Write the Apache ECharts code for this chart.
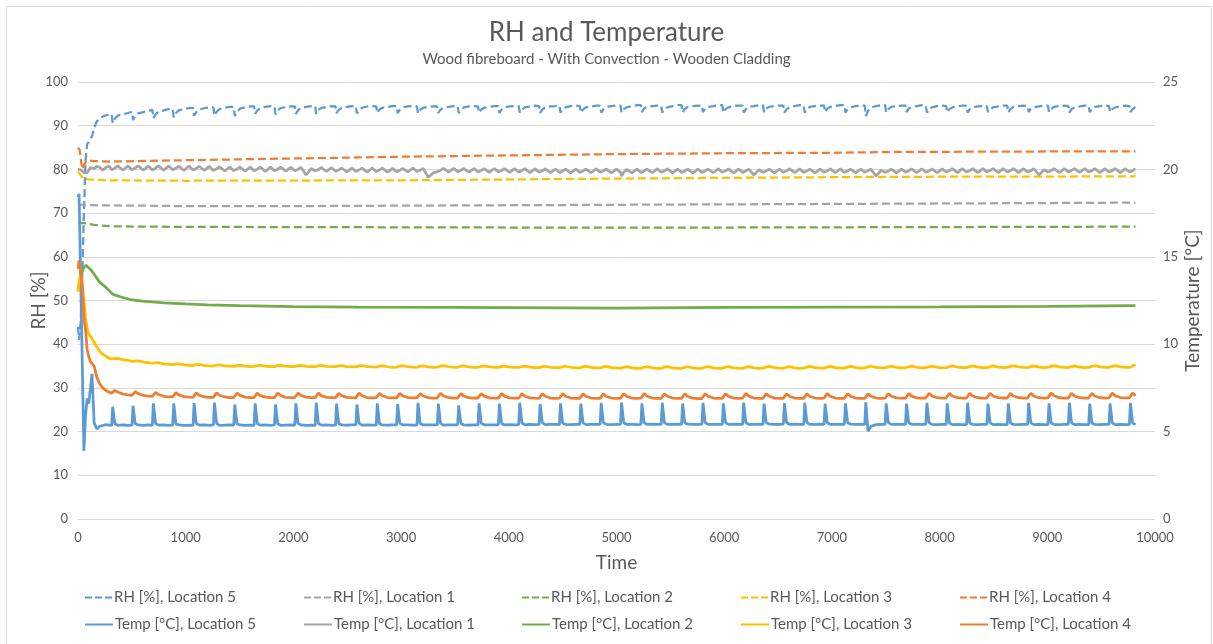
<!DOCTYPE html>
<html><head><meta charset="utf-8">
<script src="https://cdn.jsdelivr.net/npm/echarts@6/dist/echarts.min.js"></script>
<style>html,body{margin:0;padding:0;background:#fff}#c{width:1213px;height:644px}</style>
</head><body><div id="c"></div>
<script>
// ---- time grid shared by the cyclic series ----
const timeGrid = [
0,10,25,40,55,70,85,100,115,130,150,175,200,230,260,290,
312,322,342,369,417,464, 501,511,531,558,606,653, 690,700,720,747,795,842,
879,889,909,936,984,1031, 1068,1078,1098,1125,1173,1220, 1257,1267,1287,1314,1362,1409,
1446,1456,1476,1503,1551,1598, 1635,1645,1665,1692,1740,1787, 1824,1834,1854,1881,1929,1976,
2013,2023,2043,2070,2118,2165, 2202,2212,2232,2259,2307,2354, 2391,2401,2421,2448,2496,2543,
2580,2590,2610,2637,2685,2732, 2769,2779,2799,2826,2874,2921, 2958,2968,2988,3015,3063,3110,
3147,3157,3177,3204,3252,3299, 3336,3346,3366,3393,3441,3488, 3525,3535,3555,3582,3630,3677,
3714,3724,3744,3771,3819,3866, 3903,3913,3933,3960,4008,4055, 4092,4102,4122,4149,4197,4244,
4281,4291,4311,4338,4386,4433, 4470,4480,4500,4527,4575,4622, 4659,4669,4689,4716,4764,4811,
4848,4858,4878,4905,4953,5000, 5037,5047,5067,5094,5142,5189, 5226,5236,5256,5283,5331,5378,
5415,5425,5445,5472,5520,5567, 5604,5614,5634,5661,5709,5756, 5793,5803,5823,5850,5898,5945,
5982,5992,6012,6039,6087,6134, 6171,6181,6201,6228,6276,6323, 6360,6370,6390,6417,6465,6512,
6549,6559,6579,6606,6654,6701, 6738,6748,6768,6795,6843,6890, 6927,6937,6957,6984,7032,7079,
7116,7126,7146,7173,7221,7268, 7305,7315,7335,7362,7410,7457, 7494,7504,7524,7551,7599,7646,
7683,7693,7713,7740,7788,7835, 7872,7882,7902,7929,7977,8024, 8061,8071,8091,8118,8166,8213,
8250,8260,8280,8307,8355,8402, 8439,8449,8469,8496,8544,8591, 8628,8638,8658,8685,8733,8780,
8817,8827,8847,8874,8922,8969, 9006,9016,9036,9063,9111,9158, 9195,9205,9225,9252,9300,9347,
9384,9394,9414,9441,9489,9536, 9573,9583,9603,9630,9678,9725, 9762,9772,9792,9819
];

// RH [%], Location 5 (on timeGrid)
const rhLoc5 = [
44,41,45,56,70,82,85.8,86.3,87.0,87.6,89.5,91.0,91.6,92.1,92.4,92.6,
92.7,90.6,91.6,92.3,92.6,92.9, 93.2,91.3,92.2,92.8,93.1,93.4, 93.6,91.7,92.6,93.2,93.5,93.8,
93.9,91.9,92.9,93.5,93.8,94.0, 94.1,92.3,93.1,93.7,94.0,94.2, 94.2,92.3,93.2,93.8,94.1,94.3,
94.3,92.2,93.2,93.9,94.2,94.4, 94.4,92.7,93.5,94.0,94.3,94.5, 94.4,92.6,93.5,94.0,94.3,94.4,
94.4,92.7,93.5,94.1,94.3,94.5, 94.5,92.7,93.6,94.1,94.3,94.5, 94.4,92.9,93.6,94.1,94.3,94.5,
94.5,92.8,93.6,94.1,94.4,94.5, 94.4,92.9,93.7,94.1,94.3,94.5, 94.5,92.9,93.6,94.2,94.4,94.5,
94.4,92.8,93.6,94.1,94.3,94.4, 94.4,92.9,93.7,94.1,94.3,94.5, 94.5,92.9,93.6,94.2,94.4,94.5,
94.4,93.0,93.7,94.1,94.3,94.5, 94.5,92.9,93.7,94.2,94.4,94.5, 94.5,93.0,93.7,94.2,94.4,94.6,
94.5,92.9,93.7,94.2,94.4,94.5, 94.6,93.0,93.8,94.2,94.5,94.6, 94.5,93.0,93.7,94.2,94.4,94.6,
94.6,93.0,93.8,94.3,94.5,94.6, 94.6,93.0,93.8,94.2,94.5,94.7, 94.7,93.1,93.9,94.3,94.5,94.6,
94.6,93.0,93.8,94.2,94.5,94.7, 94.7,93.0,93.8,94.3,94.5,94.6, 94.6,93.1,93.9,94.3,94.5,94.7,
94.7,93.0,93.8,94.2,94.5,94.6, 94.6,93.0,93.8,94.3,94.5,94.7, 94.7,93.1,93.9,94.3,94.5,94.6,
94.6,93.0,93.8,94.2,94.5,94.7, 94.7,93.0,93.8,94.3,94.5,94.6, 94.6,93.1,93.9,94.3,94.5,94.7,
94.7,93.0,93.8,94.2,94.5,94.6, 94.6,92.2,93.4,94.1,94.5,94.7, 94.7,93.0,93.8,94.3,94.5,94.6,
94.6,93.1,93.9,94.3,94.5,94.7, 94.6,93.0,93.8,94.2,94.5,94.6, 94.5,93.1,93.8,94.2,94.4,94.6,
94.6,93.0,93.8,94.2,94.4,94.5, 94.5,93.1,93.8,94.2,94.4,94.6, 94.6,93.0,93.8,94.3,94.5,94.6,
94.5,93.1,93.9,94.2,94.4,94.6, 94.6,93.1,93.8,94.3,94.5,94.6, 94.5,93.0,93.8,94.2,94.4,94.6,
94.6,93.1,93.9,94.3,94.5,94.6, 94.5,93.1,93.8,94.2,94.4,94.6, 94.5,93.1,93.8,94.3
];

// Temp [°C], Location 5 (on timeGrid)
const tempLoc5 = [
18.4,18.6,13.7,8.8,3.9,5.9,6.9,6.6,6.7,8.3,5.5,5.15,5.3,5.35,5.4,5.37,
5.36,6.42,5.45,5.36,5.38,5.35, 5.37,6.48,5.46,5.38,5.36,5.38, 5.36,6.62,5.47,5.37,5.39,5.36,
5.37,6.62,5.45,5.38,5.36,5.37, 5.36,6.63,5.46,5.37,5.38,5.36, 5.38,6.65,5.47,5.36,5.37,5.38,
5.37,6.55,5.45,5.38,5.36,5.37, 5.36,6.62,5.46,5.37,5.38,5.36, 5.38,6.55,5.45,5.36,5.37,5.38,
5.37,6.62,5.47,5.38,5.36,5.37, 5.36,6.65,5.46,5.37,5.38,5.36, 5.37,6.60,5.46,5.38,5.37,5.38,
5.38,6.55,5.47,5.37,5.39,5.37, 5.37,6.62,5.46,5.38,5.37,5.38, 5.38,6.58,5.47,5.39,5.38,5.37,
5.37,6.64,5.46,5.38,5.39,5.38, 5.38,6.60,5.47,5.37,5.38,5.39, 5.39,6.50,5.48,5.38,5.37,5.38,
5.38,6.62,5.47,5.39,5.38,5.39, 5.39,6.60,5.48,5.38,5.40,5.38, 5.40,6.65,5.49,5.39,5.41,5.40,
5.41,6.58,5.50,5.40,5.42,5.41, 5.40,6.62,5.49,5.41,5.40,5.42, 5.41,6.60,5.50,5.40,5.42,5.41,
5.42,6.64,5.51,5.41,5.40,5.42, 5.41,6.66,5.50,5.42,5.41,5.40, 5.42,6.62,5.51,5.41,5.43,5.42,
5.41,6.65,5.50,5.42,5.41,5.43, 5.42,6.60,5.51,5.43,5.42,5.41, 5.43,6.64,5.52,5.42,5.41,5.42,
5.42,6.62,5.51,5.41,5.43,5.42, 5.41,6.66,5.50,5.42,5.41,5.43, 5.42,6.60,5.51,5.43,5.42,5.41,
5.43,6.63,5.52,5.42,5.43,5.42, 5.42,6.65,5.51,5.41,5.42,5.43, 5.41,6.60,5.50,5.42,5.41,5.42,
5.42,6.62,5.51,5.43,5.42,5.41, 5.41,6.68,5.02,5.30,5.40,5.42, 5.42,6.62,5.51,5.41,5.42,5.41,
5.41,6.60,5.50,5.42,5.41,5.42, 5.42,6.64,5.51,5.41,5.40,5.41, 5.41,6.62,5.50,5.40,5.41,5.40,
5.40,6.65,5.49,5.41,5.40,5.41, 5.41,6.60,5.50,5.40,5.42,5.40, 5.40,6.62,5.49,5.41,5.40,5.41,
5.41,6.64,5.50,5.40,5.41,5.40, 5.40,6.62,5.49,5.41,5.40,5.41, 5.41,6.65,5.50,5.40,5.41,5.40,
5.40,6.60,5.49,5.41,5.40,5.41, 5.41,6.62,5.50,5.40,5.41,5.40, 5.40,6.64,5.49,5.40
];

// Temp [°C], Location 1 (on timeGrid)
const tempLoc1 = [
20.0,20.02,19.98,19.9,19.82,19.78,19.8,19.95,20.1,20.0,20.05,20.17,20.12,19.96,20.12,20.18,
19.98,19.95,20.07,20.20,19.95,20.20, 19.98,19.95,20.08,20.21,19.96,20.19, 19.97,19.94,20.07,20.20,19.95,20.20,
19.98,19.95,20.06,20.19,19.94,20.19, 19.96,19.93,20.05,20.18,19.94,20.17, 19.94,19.91,20.03,20.15,19.91,20.14,
19.93,19.90,20.02,20.14,19.90,20.13, 19.93,19.90,20.01,20.13,19.89,20.13, 19.92,19.89,20.01,20.13,19.90,20.12,
19.92,19.89,20.00,20.12,19.68,20.05, 19.91,19.88,19.99,20.11,19.88,20.10, 19.89,19.86,19.97,20.08,19.86,20.08,
19.88,19.85,19.96,20.07,19.85,20.07, 19.88,19.85,19.96,20.07,19.84,20.06, 19.87,19.84,19.95,20.06,19.85,20.07,
19.88,19.85,19.96,20.06,19.55,19.80, 19.87,19.84,19.95,20.06,19.84,20.06, 19.87,19.84,19.95,20.05,19.84,20.05,
19.86,19.83,19.94,20.05,19.83,20.05, 19.86,19.83,19.94,20.04,19.83,20.04, 19.85,19.82,19.93,20.04,19.82,20.03,
19.84,19.81,19.92,20.03,19.81,20.02, 19.83,19.80,19.91,20.02,19.80,20.02, 19.83,19.80,19.91,20.02,19.81,20.03,
19.84,19.81,19.92,20.02,19.80,20.02, 19.83,19.62,19.85,20.00,19.80,20.02, 19.83,19.80,19.91,20.02,19.81,20.03,
19.84,19.81,19.92,20.03,19.80,20.02, 19.83,19.80,19.91,20.02,19.80,20.02, 19.83,19.80,19.91,20.02,19.81,20.03,
19.84,19.81,19.92,20.03,19.80,20.02, 19.83,19.80,19.91,20.02,19.68,19.98, 19.83,19.80,19.91,20.02,19.80,20.02,
19.84,19.81,19.92,20.03,19.81,20.03, 19.83,19.80,19.91,20.02,19.80,20.02, 19.84,19.81,19.92,20.03,19.81,20.03,
19.83,19.80,19.91,20.02,19.80,20.02, 19.84,19.81,19.92,20.02,19.62,19.95, 19.83,19.80,19.91,20.02,19.80,20.02,
19.84,19.81,19.92,20.03,19.81,20.03, 19.84,19.81,19.92,20.03,19.81,20.03, 19.85,19.82,19.93,20.04,19.82,20.04,
19.85,19.82,19.93,20.04,19.82,20.04, 19.86,19.83,19.94,20.05,19.82,20.04, 19.85,19.82,19.93,20.04,19.82,20.04,
19.85,19.82,19.93,20.04,19.68,19.98, 19.85,19.82,19.93,20.04,19.82,20.04, 19.86,19.83,19.94,20.05,19.83,20.05,
19.85,19.82,19.93,20.04,19.82,20.04, 19.85,19.82,19.93,20.04,19.82,20.04, 19.85,19.82,19.93,20.04
];

// Temp [°C], Location 3 (on timeGrid)
const tempLoc3 = [
13.0,13.6,14.05,13.5,12.5,11.5,10.9,10.6,10.45,10.35,10.1,9.85,9.6,9.42,9.3,9.2,
9.16,9.15,9.18,9.19,9.12,9.07, 9.02,9.01,9.04,9.05,8.98,8.94, 8.91,8.90,8.93,8.94,8.88,8.85,
8.83,8.82,8.87,8.88,8.82,8.79, 8.78,8.77,8.83,8.84,8.78,8.76, 8.75,8.74,8.81,8.82,8.76,8.74,
8.73,8.72,8.79,8.80,8.75,8.72, 8.73,8.72,8.78,8.80,8.74,8.72, 8.72,8.71,8.78,8.79,8.74,8.72,
8.72,8.71,8.77,8.79,8.73,8.71, 8.71,8.70,8.77,8.79,8.73,8.71, 8.71,8.70,8.76,8.78,8.72,8.70,
8.70,8.69,8.76,8.78,8.72,8.70, 8.69,8.68,8.74,8.77,8.71,8.68, 8.69,8.68,8.75,8.77,8.71,8.69,
8.68,8.67,8.74,8.76,8.70,8.68, 8.69,8.68,8.74,8.77,8.71,8.68, 8.68,8.67,8.74,8.76,8.70,8.68,
8.68,8.67,8.73,8.76,8.70,8.67, 8.67,8.66,8.73,8.75,8.69,8.67, 8.67,8.66,8.72,8.75,8.69,8.66,
8.66,8.65,8.72,8.74,8.68,8.66, 8.66,8.65,8.71,8.74,8.68,8.65, 8.65,8.64,8.70,8.73,8.67,8.65,
8.64,8.63,8.70,8.73,8.66,8.64, 8.62,8.61,8.68,8.72,8.65,8.62, 8.62,8.61,8.68,8.72,8.65,8.62,
8.62,8.61,8.69,8.72,8.65,8.62, 8.61,8.60,8.68,8.71,8.64,8.62, 8.62,8.61,8.68,8.72,8.65,8.62,
8.62,8.61,8.69,8.72,8.65,8.63, 8.62,8.61,8.68,8.72,8.65,8.62, 8.63,8.62,8.69,8.73,8.66,8.63,
8.62,8.61,8.68,8.72,8.65,8.62, 8.63,8.62,8.69,8.73,8.66,8.63, 8.63,8.62,8.69,8.73,8.66,8.63,
8.63,8.62,8.69,8.73,8.66,8.63, 8.64,8.63,8.70,8.74,8.67,8.64, 8.64,8.63,8.70,8.74,8.67,8.64,
8.65,8.64,8.71,8.75,8.68,8.65, 8.65,8.64,8.71,8.75,8.68,8.65, 8.66,8.65,8.72,8.76,8.69,8.66,
8.66,8.65,8.72,8.76,8.69,8.66, 8.66,8.65,8.72,8.76,8.69,8.66, 8.67,8.66,8.73,8.77,8.70,8.67,
8.66,8.65,8.72,8.76,8.69,8.66, 8.67,8.66,8.73,8.77,8.70,8.67, 8.66,8.65,8.72,8.76,8.69,8.66,
8.67,8.66,8.73,8.77,8.70,8.67, 8.67,8.66,8.73,8.77,8.70,8.67, 8.67,8.66,8.74,8.85
];

// Temp [°C], Location 4 (on timeGrid)
const tempLoc4 = [
14.3,14.8,14.8,13.3,11.5,10.8,9.7,9.3,9.0,8.9,8.75,8.1,7.75,7.5,7.35,7.25,
7.20,7.22,7.36,7.27,7.15,7.10, 7.07,7.08,7.28,7.17,7.07,7.03, 7.01,7.02,7.25,7.12,7.02,6.99,
6.98,6.99,7.23,7.10,7.00,6.97, 6.96,6.97,7.22,7.08,6.98,6.96, 6.96,6.97,7.22,7.08,6.98,6.95,
6.95,6.96,7.21,7.07,6.97,6.95, 6.95,6.96,7.20,7.06,6.97,6.95, 6.94,6.95,7.21,7.06,6.96,6.94,
6.95,6.96,7.20,7.07,6.97,6.95, 6.94,6.95,7.20,7.06,6.96,6.94, 6.94,6.95,7.19,7.05,6.96,6.94,
6.93,6.94,7.20,7.05,6.95,6.93, 6.94,6.95,7.19,7.05,6.95,6.93, 6.93,6.94,7.19,7.04,6.95,6.93,
6.93,6.94,7.18,7.04,6.94,6.92, 6.92,6.93,7.19,7.04,6.94,6.92, 6.92,6.93,7.18,7.03,6.94,6.92,
6.92,6.93,7.18,7.03,6.93,6.91, 6.91,6.92,7.18,7.03,6.93,6.91, 6.91,6.92,7.17,7.02,6.93,6.91,
6.90,6.91,7.17,7.02,6.92,6.90, 6.91,6.92,7.18,7.02,6.92,6.90, 6.90,6.91,7.17,7.02,6.92,6.90,
6.90,6.91,7.16,7.01,6.92,6.90, 6.90,6.91,7.17,7.02,6.92,6.90, 6.91,6.92,7.18,7.02,6.92,6.90,
6.90,6.91,7.17,7.02,6.92,6.90, 6.90,6.91,7.16,7.01,6.91,6.89, 6.89,6.90,7.17,7.02,6.92,6.90,
6.90,6.91,7.17,7.02,6.92,6.90, 6.91,6.92,7.18,7.03,6.92,6.90, 6.90,6.91,7.17,7.02,6.92,6.90,
6.90,6.91,7.17,7.02,6.92,6.90, 6.90,6.91,7.16,7.01,6.92,6.90, 6.91,6.92,7.18,7.02,6.92,6.90,
6.90,6.91,7.17,7.02,6.92,6.90, 6.90,6.91,7.17,7.02,6.92,6.90, 6.91,6.92,7.17,7.02,6.93,6.91,
6.91,6.92,7.18,7.03,6.93,6.91, 6.92,6.93,7.19,7.04,6.94,6.92, 6.92,6.93,7.19,7.04,6.94,6.92,
6.92,6.93,7.19,7.04,6.94,6.92, 6.92,6.93,7.20,7.04,6.94,6.92, 6.92,6.93,7.19,7.04,6.94,6.92,
6.92,6.93,7.19,7.04,6.94,6.92, 6.93,6.94,7.20,7.05,6.94,6.92, 6.92,6.93,7.19,7.04,6.94,6.92,
6.92,6.93,7.20,7.04,6.94,6.92, 6.93,6.94,7.20,7.05,6.95,6.93, 6.93,6.94,7.20,7.05
];

// Temp [°C], Location 2: [time, value]
const tempLoc2 = [[0,13.1],[25,13.9],[50,14.35],[75,14.52],[90,14.5],[120,14.25],[150,14.0],[200,13.55],[250,13.3],
  [325,12.85],[400,12.7],[500,12.53],[600,12.47],[800,12.37],[1000,12.3],[1200,12.25],[1500,12.2],[2000,12.15],
  [2600,12.12],[3500,12.1],[4500,12.08],[5000,12.07],[6000,12.1],[7000,12.12],[8000,12.14],[9000,12.17],[9819,12.2]];
// RH [%], Location 1: [time, value]
const rhLoc1 = [[0,71.9],[100,71.8],[1000,71.6],[2000,71.6],[3000,71.7],[4000,71.8],[5000,71.9],[6000,72.0],
  [7000,72.1],[8000,72.2],[9000,72.3],[9819,72.4]];
// RH [%], Location 2
const rhLoc2 = [[0,67.7],[60,67.7],[150,67.3],[300,67.0],[600,66.9],[1000,66.85],[2000,66.8],[4000,66.7],
  [6000,66.7],[8000,66.8],[9819,66.9]];
// RH [%], Location 3
const rhLoc3 = [[0,79.5],[15,79.6],[30,78.5],[45,77.8],[100,77.7],[300,77.5],[1000,77.4],[3000,77.5],
  [5000,77.9],[7500,78.3],[9819,78.4]];
// RH [%], Location 4
const rhLoc4 = [[0,85.0],[15,84.5],[30,81.5],[45,80.0],[60,81.2],[80,82.1],[150,81.9],[300,81.8],[1000,82.1],
  [2000,82.5],[3000,82.9],[4000,83.2],[5000,83.5],[6000,83.7],[7000,83.8],[7600,84.0],[9000,84.1],[9819,84.1]];

const rhNames = ['RH [%], Location 5','RH [%], Location 1','RH [%], Location 2','RH [%], Location 3','RH [%], Location 4'];
const tempNames = ['Temp [°C], Location 5','Temp [°C], Location 1','Temp [°C], Location 2','Temp [°C], Location 3','Temp [°C], Location 4'];
const xTicks = [0,1000,2000,3000,4000,5000,6000,7000,8000,9000,10000];

const colors = ['#5B9BD5','#A5A5A5','#70AD47','#FFC000','#ED7D31'];
const zip = (t, v) => t.map((x, i) => [x, v[i]]);

const rhData = [zip(timeGrid, rhLoc5), rhLoc1, rhLoc2, rhLoc3, rhLoc4];
const tempData = [zip(timeGrid, tempLoc5), zip(timeGrid, tempLoc1), tempLoc2, zip(timeGrid, tempLoc3), zip(timeGrid, tempLoc4)];

const FONT = 'Lato';
const TXT = '#595959';
const DASH_ICON = 'path://M0,0h7v2h-7z M10,0h7v2h-7z M20,0h7v2h-7z';
const SOLID_ICON = 'path://M0,0h28v2h-28z';

const series = [];
rhNames.forEach((n, i) => series.push({
  name: n, type: 'line', yAxisIndex: 0, data: rhData[i], symbol: 'none', showSymbol: false, silent: true,
  lineStyle: {color: colors[i], width: 2.25, type: [8, 4]}, itemStyle: {color: colors[i]}, z: 2
}));
tempNames.forEach((n, i) => series.push({
  name: n, type: 'line', yAxisIndex: 1, data: tempData[i], symbol: 'none', showSymbol: false, silent: true,
  lineStyle: {color: colors[i], width: 2.75, type: 'solid'}, itemStyle: {color: colors[i]}, z: 3
}));

const colX = [80, 299, 517, 736, 955];
const legends = [];
rhNames.forEach((n, i) => legends.push({left: colX[i], top: 585, icon: DASH_ICON, itemWidth: 27, data: [n]}));
tempNames.forEach((n, i) => legends.push({left: colX[i], top: 612, icon: SOLID_ICON, itemWidth: 28, data: [n]}));
legends.forEach(l => Object.assign(l, {
  itemHeight: 2.5, selectedMode: false,
  textStyle: {color: TXT, fontSize: 15, fontFamily: FONT, padding: [0, 0, 0, -3]}
}));

const option = {
  animation: false,
  backgroundColor: '#ffffff',
  textStyle: {fontFamily: FONT},
  graphic: [{type: 'rect', silent: true, z: -10,
    shape: {x: 6.5, y: 6.5, width: 1205, height: 700},
    style: {fill: 'transparent', stroke: '#D9D9D9', lineWidth: 1}}],
  title: {
    text: 'RH and Temperature', subtext: 'Wood fibreboard - With Convection - Wooden Cladding',
    left: 'center', top: 15, itemGap: 6,
    textStyle: {fontSize: 26, fontWeight: 'normal', color: TXT, fontFamily: FONT},
    subtextStyle: {fontSize: 15, color: TXT, fontFamily: FONT}
  },
  legend: legends,
  grid: {left: 78, right: 58, top: 82, bottom: 125},
  xAxis: {
    type: 'value', min: xTicks[0], max: xTicks[xTicks.length - 1], interval: 1000,
    name: 'Time', nameLocation: 'middle', nameGap: 34, nameMoveOverlap: false,
    nameTextStyle: {fontSize: 19, color: TXT, fontFamily: FONT},
    axisLine: {show: false}, axisTick: {show: false}, splitLine: {show: false},
    axisLabel: {color: TXT, fontSize: 13, margin: 12, fontFamily: FONT, formatter: v => String(v)}
  },
  yAxis: [{
    type: 'value', min: 0, max: 100, interval: 10, position: 'left',
    name: 'RH [%]', nameLocation: 'middle', nameGap: 30, nameRotate: 90, nameMoveOverlap: false,
    nameTextStyle: {fontSize: 19, color: TXT, fontFamily: FONT},
    axisLine: {show: false}, axisTick: {show: false},
    splitLine: {show: true, lineStyle: {color: '#D9D9D9', width: 1}},
    axisLabel: {color: TXT, fontSize: 13, margin: 10, fontFamily: FONT}
  }, {
    type: 'value', min: 0, max: 25, interval: 5, position: 'right',
    name: 'Temperature [°C]', nameLocation: 'middle', nameGap: 28, nameRotate: 90, nameMoveOverlap: false,
    nameTextStyle: {fontSize: 19, color: TXT, fontFamily: FONT},
    axisLine: {show: false}, axisTick: {show: false}, splitLine: {show: false},
    axisLabel: {color: TXT, fontSize: 13, margin: 8, fontFamily: FONT}
  }],
  series: series
};

const chart = echarts.init(document.getElementById('c'), null, {renderer: 'canvas'});
chart.setOption(option);
</script>
</body></html>
